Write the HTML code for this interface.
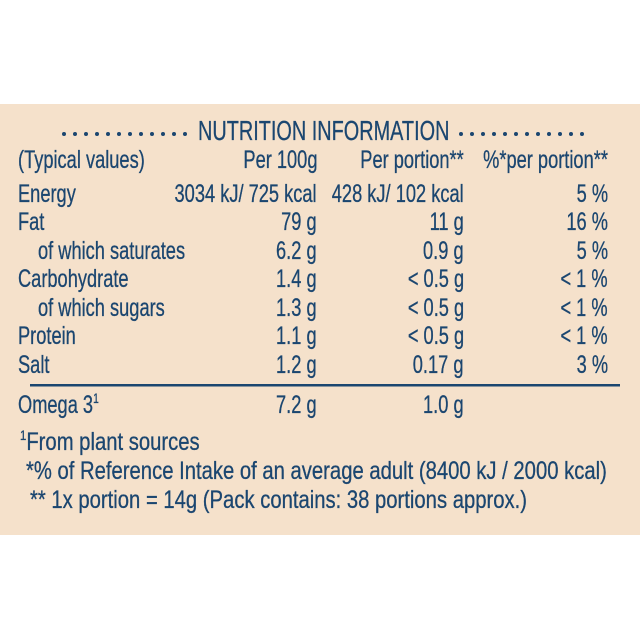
<!DOCTYPE html>
<html><head><meta charset="utf-8"><style>
body{margin:0;width:640px;height:640px;background:#fff;position:relative;overflow:hidden;}
#band{position:absolute;left:0;top:104px;width:640px;height:431px;background:#f5e1cb;}
.t{position:absolute;font-family:"Liberation Sans",sans-serif;font-size:25px;line-height:28px;color:#1b4670;white-space:nowrap;transform:scaleX(.73);transform-origin:left center;-webkit-text-stroke:0.3px #1b4670;}
.r{text-align:right;transform-origin:right center;}
.f{transform:scaleX(.81);}
.c1{right:323px}.c2{right:176px}.c3{right:32px}
sup{font-size:14px;vertical-align:baseline;position:relative;top:-10px;}
</style></head><body>
<div id="band"></div>
<svg style="position:absolute;left:0;top:0" width="640" height="640">
<g fill="#1b4670">
<circle cx="64" cy="134" r="2"/><circle cx="75" cy="134" r="2"/><circle cx="86" cy="134" r="2"/><circle cx="97" cy="134" r="2"/><circle cx="108" cy="134" r="2"/><circle cx="119" cy="134" r="2"/><circle cx="130" cy="134" r="2"/><circle cx="141" cy="134" r="2"/><circle cx="152" cy="134" r="2"/><circle cx="163" cy="134" r="2"/><circle cx="174" cy="134" r="2"/><circle cx="185" cy="134" r="2"/>
<circle cx="461" cy="134" r="2"/><circle cx="472" cy="134" r="2"/><circle cx="483" cy="134" r="2"/><circle cx="494" cy="134" r="2"/><circle cx="505" cy="134" r="2"/><circle cx="516" cy="134" r="2"/><circle cx="527" cy="134" r="2"/><circle cx="538" cy="134" r="2"/><circle cx="549" cy="134" r="2"/><circle cx="560" cy="134" r="2"/><circle cx="571" cy="134" r="2"/><circle cx="582" cy="134" r="2"/>
</g>
<rect x="30" y="384" width="590" height="2.5" fill="#1b4670"/>
</svg>
<div class="t" style="left:198px;top:117px;font-size:28px;transform:scaleX(.71)">NUTRITION INFORMATION</div>

<div class="t" style="left:18px;top:146px">(Typical values)</div>
<div class="t r c1" style="top:146px">Per 100g</div>
<div class="t r c2" style="top:146px">Per portion**</div>
<div class="t r c3" style="top:146px">%*per portion**</div>

<div class="t" style="left:18px;top:180px">Energy</div>
<div class="t r c1" style="top:180px">3034 kJ/ 725 kcal</div>
<div class="t r c2" style="top:180px">428 kJ/ 102 kcal</div>
<div class="t r c3" style="top:180px">5 %</div>

<div class="t" style="left:18px;top:208px">Fat</div>
<div class="t r c1" style="top:208px">79 g</div>
<div class="t r c2" style="top:208px">11 g</div>
<div class="t r c3" style="top:208px">16 %</div>

<div class="t" style="left:38px;top:237px">of which saturates</div>
<div class="t r c1" style="top:237px">6.2 g</div>
<div class="t r c2" style="top:237px">0.9 g</div>
<div class="t r c3" style="top:237px">5 %</div>

<div class="t" style="left:18px;top:265px">Carbohydrate</div>
<div class="t r c1" style="top:265px">1.4 g</div>
<div class="t r c2" style="top:265px">&lt; 0.5 g</div>
<div class="t r c3" style="top:265px">&lt; 1 %</div>

<div class="t" style="left:38px;top:294px">of which sugars</div>
<div class="t r c1" style="top:294px">1.3 g</div>
<div class="t r c2" style="top:294px">&lt; 0.5 g</div>
<div class="t r c3" style="top:294px">&lt; 1 %</div>

<div class="t" style="left:18px;top:322px">Protein</div>
<div class="t r c1" style="top:322px">1.1 g</div>
<div class="t r c2" style="top:322px">&lt; 0.5 g</div>
<div class="t r c3" style="top:322px">&lt; 1 %</div>

<div class="t" style="left:18px;top:351px">Salt</div>
<div class="t r c1" style="top:351px">1.2 g</div>
<div class="t r c2" style="top:351px">0.17 g</div>
<div class="t r c3" style="top:351px">3 %</div>

<div class="t" style="left:18px;top:391px">Omega 3<sup>1</sup></div>
<div class="t r c1" style="top:391px">7.2 g</div>
<div class="t r c2" style="top:391px">1.0 g</div>

<div class="t f" style="left:20px;top:428px"><sup>1</sup>From plant sources</div>
<div class="t f" style="left:26px;top:457px">*% of Reference Intake of an average adult (8400 kJ / 2000 kcal)</div>
<div class="t f" style="left:30px;top:486px">** 1x portion = 14g (Pack contains: 38 portions approx.)</div>
</body></html>
